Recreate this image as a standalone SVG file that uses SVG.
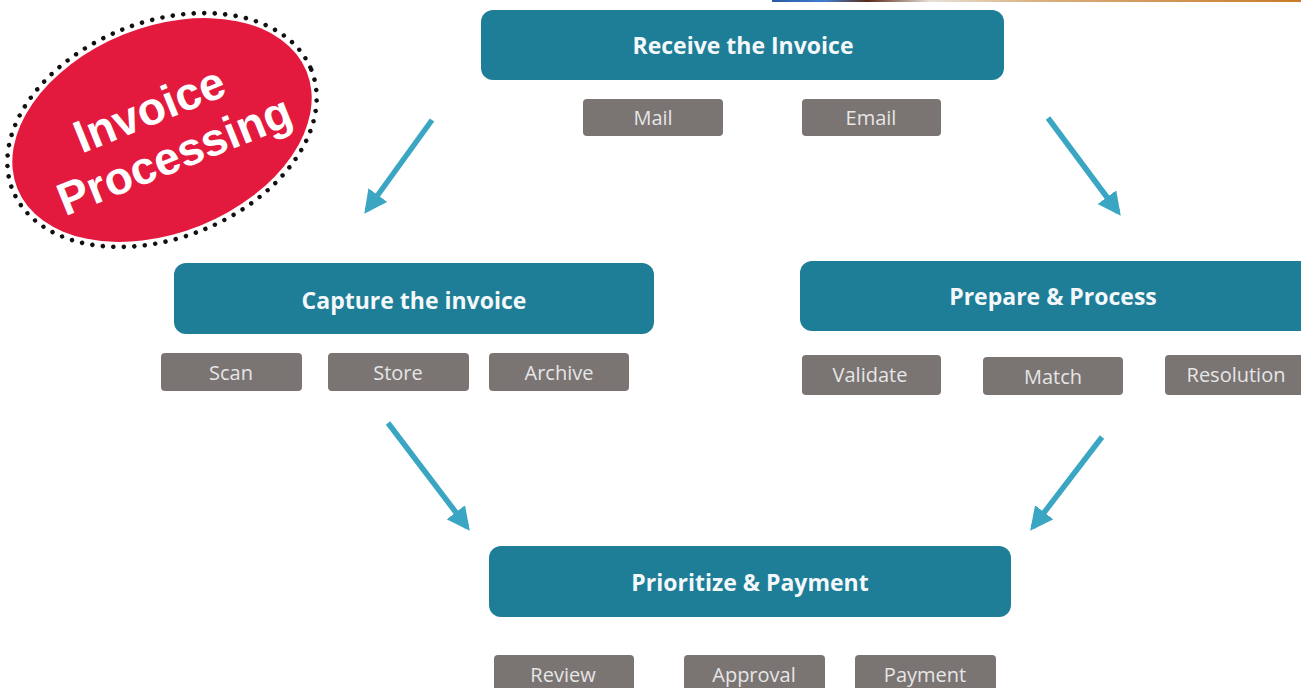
<svg xmlns="http://www.w3.org/2000/svg" width="1301" height="688" viewBox="0 0 1301 688">
<defs>
<linearGradient id="strip" x1="0" y1="0" x2="1" y2="0">
<stop offset="0" stop-color="#2a5aa8"/>
<stop offset="0.1" stop-color="#3f7fd0"/>
<stop offset="0.18" stop-color="#5a2a1a"/>
<stop offset="0.3" stop-color="#e8e0d8"/>
<stop offset="0.5" stop-color="#d9b080"/>
<stop offset="1" stop-color="#c87a28"/>
</linearGradient>
<marker id="ah" viewBox="0 0 10 10" refX="8" refY="5" markerWidth="4.2" markerHeight="4.2" orient="auto" markerUnits="strokeWidth">
<path d="M0,0 L10,5 L0,10 z" fill="#3aa6c3"/>
</marker>
<style>
.main{fill:#1e7e97}
.sub{fill:#7a7473}
.mt{font-family:"Open Sans","Noto Sans",sans-serif;font-weight:700;font-size:23px;fill:#f4f8fa;text-anchor:middle}
.st{font-family:"Open Sans","Noto Sans",sans-serif;font-size:20px;fill:#e6e6e6;text-anchor:middle}
.arr{stroke:#3aa6c3;stroke-width:5.5;fill:none;marker-end:url(#ah)}
.bt{font-family:"Liberation Sans",Arial,sans-serif;font-weight:700;font-size:46px;fill:#ffffff;text-anchor:middle}
</style>
</defs>
<rect x="0" y="0" width="1301" height="688" fill="#ffffff"/>
<rect x="772" y="0" width="529" height="2" fill="url(#strip)"/>

<g id="connectors">
<line class="arr" x1="432" y1="120" x2="367" y2="210"/>
<line class="arr" x1="1048" y1="118" x2="1118" y2="212"/>
<line class="arr" x1="388" y1="423" x2="467" y2="527"/>
<line class="arr" x1="1102" y1="437" x2="1033" y2="527"/>
</g>

<g id="receive">
<rect class="main" x="481" y="10" width="523" height="70" rx="12"/>
<text class="mt" x="743" y="54">Receive the Invoice</text>
</g>
<g id="mail"><rect class="sub" x="583" y="99" width="140" height="37" rx="4"/><text class="st" x="653" y="125">Mail</text></g>
<g id="email"><rect class="sub" x="802" y="99" width="139" height="37" rx="4"/><text class="st" x="871" y="125">Email</text></g>

<g id="capture">
<rect class="main" x="174" y="263" width="480" height="71" rx="12"/>
<text class="mt" x="414" y="309">Capture the invoice</text>
</g>
<g id="scan"><rect class="sub" x="161" y="353" width="141" height="38" rx="4"/><text class="st" x="231" y="380">Scan</text></g>
<g id="store"><rect class="sub" x="328" y="353" width="141" height="38" rx="4"/><text class="st" x="398" y="380">Store</text></g>
<g id="archive"><rect class="sub" x="489" y="353" width="140" height="38" rx="4"/><text class="st" x="559" y="380">Archive</text></g>

<g id="prepare">
<rect class="main" x="800" y="261" width="515" height="70" rx="12"/>
<text class="mt" x="1053" y="305">Prepare &amp; Process</text>
</g>
<g id="validate"><rect class="sub" x="802" y="355" width="139" height="40" rx="4"/><text class="st" x="870" y="382">Validate</text></g>
<g id="match"><rect class="sub" x="983" y="357" width="140" height="38" rx="4"/><text class="st" x="1053" y="384">Match</text></g>
<g id="resolution"><rect class="sub" x="1165" y="355" width="150" height="40" rx="4"/><text class="st" x="1236" y="382">Resolution</text></g>

<g id="prioritize">
<rect class="main" x="489" y="546" width="522" height="71" rx="12"/>
<text class="mt" x="750" y="591">Prioritize &amp; Payment</text>
</g>
<g id="review"><rect class="sub" x="494" y="655" width="140" height="45" rx="4"/><text class="st" x="563" y="682">Review</text></g>
<g id="approval"><rect class="sub" x="684" y="655" width="141" height="45" rx="4"/><text class="st" x="754" y="682">Approval</text></g>
<g id="payment"><rect class="sub" x="855" y="655" width="141" height="45" rx="4"/><text class="st" x="925" y="682">Payment</text></g>

<g id="badge" transform="translate(162,130) rotate(-22)">
<ellipse cx="0" cy="0" rx="156" ry="103" fill="#e31a3e"/>
<ellipse cx="0" cy="0" rx="161" ry="108" fill="none" stroke="#111111" stroke-width="4.5" stroke-dasharray="0 10.5" stroke-linecap="round"/>
<text class="bt" x="-4" y="-8">Invoice</text>
<text class="bt" x="2" y="44">Processing</text>
</g>
</svg>
